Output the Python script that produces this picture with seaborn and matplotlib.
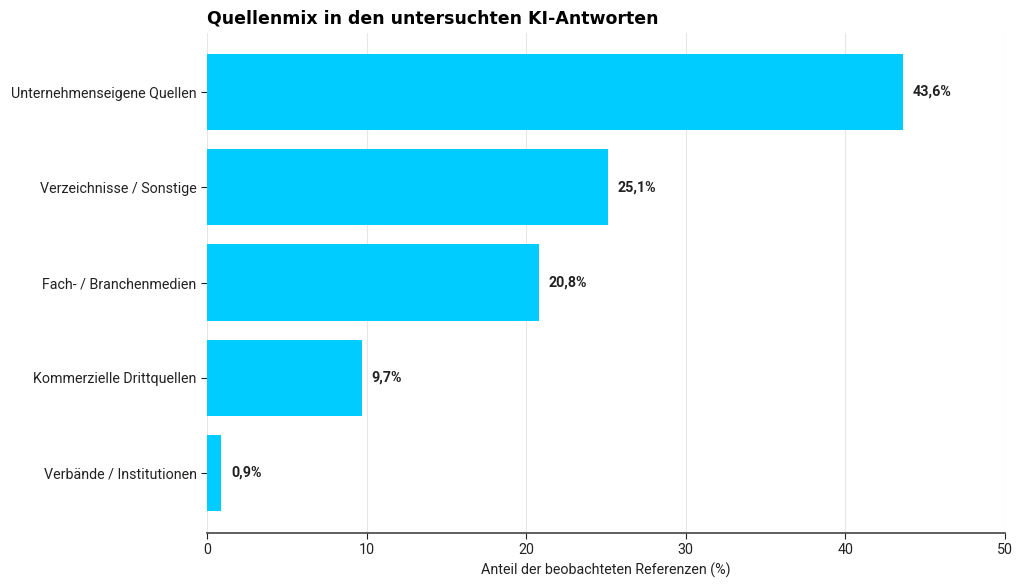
import matplotlib
matplotlib.use("Agg")
import matplotlib.pyplot as plt
import seaborn as sns
import pandas as pd

categories = ["Unternehmenseigene Quellen", "Verzeichnisse / Sonstige",
              "Fach- / Branchenmedien", "Kommerzielle Drittquellen",
              "Verbände / Institutionen"]
values = [43.6, 25.1, 20.8, 9.7, 0.9]
value_labels = ["43,6%", "25,1%", "20,8%", "9,7%", "0,9%"]
xticks = [0, 10, 20, 30, 40, 50]

sns.set_theme(style="white")
plt.rcParams["font.family"] = ["Roboto", "DejaVu Sans"]

df = pd.DataFrame({"cat": categories, "val": values})

fig = plt.figure(figsize=(10.24, 5.88), dpi=100)
ax = fig.add_axes([207/1024, 1 - 533/588, (1005-207)/1024, (533-33)/588])
sns.barplot(data=df, x="val", y="cat", color="#00CCFF", saturation=1, width=0.8,
            linewidth=0, ax=ax, zorder=3)

ax.set_xlim(0, 50)
ax.set_ylim(4.63, -0.62)
ax.set_xticks(xticks)
ax.set_xticklabels([str(t) for t in xticks], fontsize=10.3, color="#222222")
ax.tick_params(axis="y", labelsize=10.3, colors="#222222", length=4, width=0.8, left=True)
ax.tick_params(axis="x", length=4, width=0.8, bottom=True, colors="#222222")
ax.xaxis.grid(True, color="#e6e6e6", linewidth=0.8, zorder=0)
ax.set_axisbelow(True)
ax.set_ylabel("")
ax.set_xlabel("Anteil der beobachteten Referenzen (%)", fontsize=10.3, color="#222222")
for s in ["top", "right", "left"]:
    ax.spines[s].set_visible(False)
ax.spines["bottom"].set_color("#444444")
ax.spines["bottom"].set_linewidth(1.2)

for i, (v, lab) in enumerate(zip(values, value_labels)):
    ax.text(v + 0.6, i, lab, va="center", ha="left", fontsize=10.3, fontweight="bold", color="#222222")

ax.set_title("Quellenmix in den untersuchten KI-Antworten", loc="left", fontsize=12.5,
             fontweight="bold", family="DejaVu Sans", color="black", pad=7)

fig.savefig("out.png", dpi=100)
